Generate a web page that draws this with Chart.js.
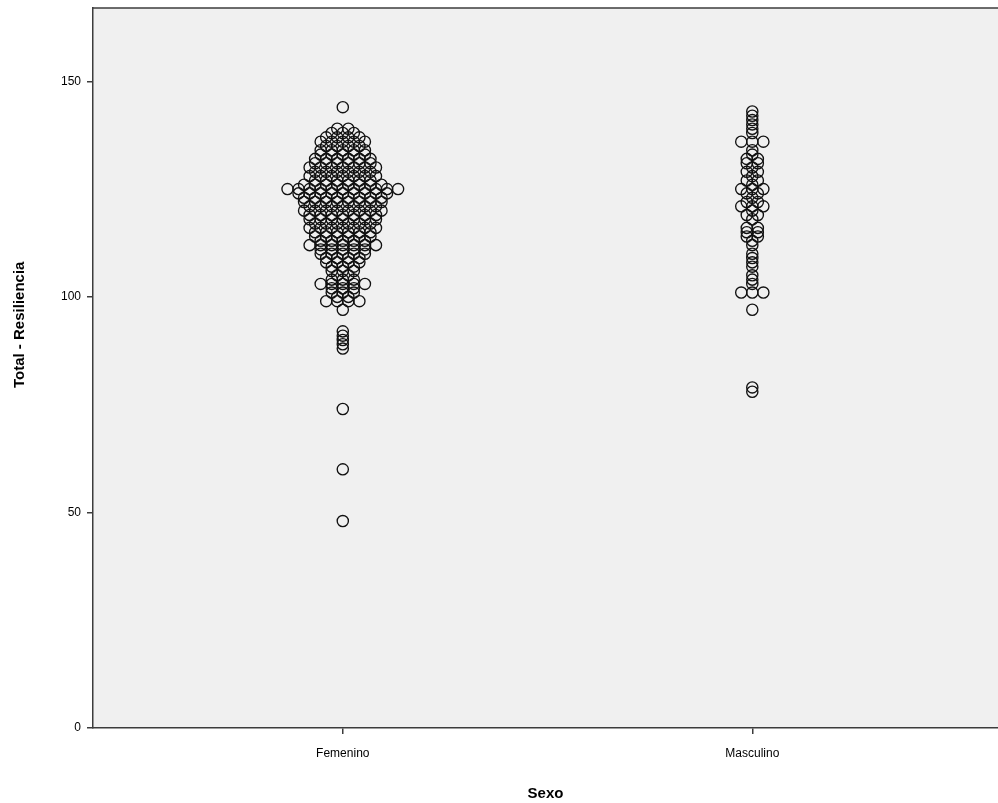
<!DOCTYPE html>
<html>
<head>
<meta charset="utf-8">
<script src="https://cdn.jsdelivr.net/npm/chart.js@4.4.1/dist/chart.umd.min.js"></script>
<style>
  html, body { margin: 0; padding: 0; background: #ffffff; overflow: hidden; }
  canvas { display: block; }
</style>
</head>
<body>
<canvas id="myChart" width="998" height="803"></canvas>
<script>
// Categories on the x axis
const categories = ['Femenino', 'Masculino'];

// Femenino: value of each row and how many dots it stacks
const femValues = [144, 139, 138, 137, 136, 135, 134, 133, 132, 131, 130, 129, 128, 127, 126, 125, 124, 123, 122, 121,
    120, 119, 118, 117, 116, 115, 114, 113, 112, 111, 110, 109, 108, 107, 106, 105, 104, 103, 102, 101,
    100, 99, 97, 92, 91, 90, 89, 88, 74, 60, 48];
const femCounts = [1, 2, 3, 4, 5, 4, 5, 5, 6, 6, 7, 6, 7, 6, 8, 11, 9, 8, 8, 7,
    8, 7, 7, 6, 7, 6, 6, 5, 7, 5, 5, 4, 4, 3, 3, 2, 3, 5, 3, 3,
    2, 4, 1, 1, 1, 1, 1, 1, 1, 1, 1];

// Masculino
const mascValues = [143, 142, 141, 140, 139, 138, 136, 134, 133, 132, 131, 130, 129, 128, 127, 126, 125, 124, 123, 122,
    121, 120, 119, 118, 116, 115, 114, 113, 112, 110, 109, 108, 107, 105, 104, 103, 101, 97, 79, 78];
const mascCounts = [1, 1, 1, 1, 1, 1, 3, 1, 1, 2, 2, 1, 2, 1, 2, 1, 3, 2, 1, 2,
    3, 1, 2, 1, 2, 2, 2, 1, 1, 1, 1, 1, 1, 1, 1, 1, 3, 1, 1, 1];

// Y axis tick labels
const yTicks = [0, 50, 100, 150];

const yTitle = 'Total - Resiliencia';

// horizontal gap between stacked dots, in x axis units
const dotGap = 0.027;

function stackDots(catPos, values, counts) {
    const pts = [];
    values.forEach((v, i) => {
        const n = counts[i];
        for (let k = 0; k < n; k++) {
            pts.push({ x: catPos + (k - (n - 1) / 2) * dotGap, y: v });
        }
    });
    return pts;
}

// plot area background, top frame line and the y title (sits a bit above centre)
const plotFrame = {
    id: 'plotFrame',
    beforeDraw(chart) {
        const { ctx, chartArea: a } = chart;
        ctx.save();
        ctx.fillStyle = '#f0f0f0';
        ctx.fillRect(a.left, a.top, a.right - a.left, a.bottom - a.top);
        ctx.restore();
    },
    afterDraw(chart) {
        const { ctx, chartArea: a } = chart;
        ctx.save();
        ctx.strokeStyle = '#3c3c3c';
        ctx.lineWidth = 1.5;
        ctx.beginPath();
        ctx.moveTo(a.left, a.top);
        ctx.lineTo(chart.width, a.top);
        ctx.stroke();

        ctx.translate(20, a.top + (a.bottom - a.top) * 0.44);
        ctx.rotate(-Math.PI / 2);
        ctx.fillStyle = '#000';
        ctx.font = 'bold 15px "Liberation Sans", Arial';
        ctx.textAlign = 'center';
        ctx.textBaseline = 'middle';
        ctx.fillText(yTitle, 0, 0);
        ctx.restore();
    }
};

const dotStyle = {
    pointStyle: 'circle',
    pointRadius: 5.6,
    pointHoverRadius: 5.6,
    pointBorderWidth: 1.35,
    pointBorderColor: '#111',
    pointBackgroundColor: 'rgba(0,0,0,0)',
    showLine: false
};

const ctx = document.getElementById('myChart').getContext('2d');
const chart = new Chart(ctx, {
    type: 'scatter',
    data: {
        datasets: [
            Object.assign({ label: categories[0], data: stackDots(1, femValues, femCounts) }, dotStyle),
            Object.assign({ label: categories[1], data: stackDots(2, mascValues, mascCounts) }, dotStyle)
        ]
    },
    options: {
        responsive: false,
        animation: false,
        layout: { autoPadding: false, padding: { top: 8, right: 0, left: 0, bottom: 0 } },
        plugins: {
            legend: { display: false },
            tooltip: { enabled: false }
        },
        scales: {
            x: {
                type: 'linear',
                min: 0.39,
                max: 2.6,
                afterBuildTicks: (scale) => { scale.ticks = categories.map((c, i) => ({ value: i + 1 })); },
                afterFit: (scale) => { scale.height = 75; scale.paddingLeft = 0; scale.paddingRight = 0; },
                ticks: {
                    callback: (v) => categories[v - 1],
                    color: '#000',
                    font: { family: 'Liberation Sans, Arial', size: 12 },
                    padding: 12,
                    maxRotation: 0
                },
                grid: { drawOnChartArea: false, drawTicks: true, tickLength: 6, color: '#3c3c3c', lineWidth: 1.5 },
                border: { display: true, color: '#3c3c3c', width: 1.5 },
                title: {
                    display: true,
                    text: 'Sexo',
                    color: '#000',
                    font: { family: 'Liberation Sans, Arial', size: 15, weight: 'bold' },
                    padding: { top: 3, bottom: 0 }
                }
            },
            y: {
                min: 0,
                max: 167,
                afterBuildTicks: (scale) => { scale.ticks = yTicks.map(v => ({ value: v })); },
                afterFit: (scale) => { scale.width = 93; scale.paddingTop = 0; scale.paddingBottom = 0; },
                ticks: {
                    color: '#000',
                    font: { family: 'Liberation Sans, Arial', size: 12 },
                    padding: 6
                },
                grid: { drawOnChartArea: false, drawTicks: true, tickLength: 6, color: '#3c3c3c', lineWidth: 1.5 },
                border: { display: true, color: '#3c3c3c', width: 1.5 },
                title: { display: false }
            }
        }
    },
    plugins: [plotFrame]
});
</script>
</body>
</html>
